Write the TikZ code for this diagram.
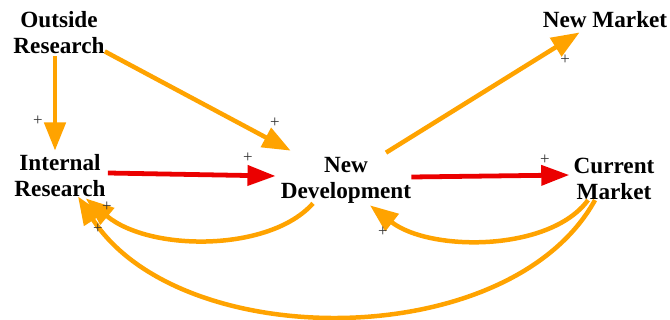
\documentclass[tikz,border=0pt]{standalone}
\usepackage{fontspec}
\setmainfont{Liberation Serif}
\usetikzlibrary{arrows.meta}
\definecolor{linkorange}{RGB}{255,163,0}
\definecolor{linkred}{RGB}{235,0,0}

\begin{document}
\begin{tikzpicture}[x=0.025cm, y=-0.025cm,
  var/.style={align=center, inner sep=0pt, font=\fontsize{16.5}{18.5}\selectfont\bfseries},
  sign/.style={font=\fontsize{12}{12}\selectfont, text=black!80},
  link/.style={color=linkorange, line width=3.2pt, -{Triangle[length=20pt,width=15pt]}},
  flow/.style={color=linkred, line width=3.4pt, -{Triangle[length=20pt,width=14pt]}}]
	\useasboundingbox (0,0) rectangle (670,320);
	% variables
	\node[var] (out) at (59,33) {Outside\\Research};
	\node[var] (inr) at (60,176) {Internal\\Research};
	\node[var] (dev) at (346,180) {New\\Development};
	\node[var] (cm) at (614,179) {Current\\Market};
	\node[var] (nm) at (605,20) {New Market};
	% straight links
	\draw[link] ([shift={(-4,2)}]out.south) -- ([shift={(-5,-4)}]inr.north);
	\draw[link] ([shift={(0,-3)}]out.south east) -- ([shift={(10,-6)}]dev.north west);
	\draw[flow] ([shift={(2,-3)}]inr.east) -- ([shift={(-5,-4)}]dev.west);
	\draw[link] ([shift={(40,-4)}]dev.north) -- ([shift={(37,4)}]nm.south west);
	\draw[flow] ([shift={(0,-3)}]dev.east) -- ([shift={(-4,-4)}]cm.west);
	% feedback links
	\draw[link] ([shift={(-33,0)}]dev.south) .. controls (270,252) and (150,252) .. ([shift={(-20,1)}]inr.south east);
	\draw[link] ([shift={(-26,0)}]cm.south) .. controls (550,252) and (430,252) .. ([shift={(24,2)}]dev.south);
	\draw[link] ([shift={(-19,0)}]cm.south) .. controls (510,354) and (180,354) .. ([shift={(18,-1)}]inr.south);
	% polarities
	\node[sign] (p1) at (38,121) {+};
	\node[sign] (p2) at (275,123) {+};
	\node[sign] (p3) at (248,158) {+};
	\node[sign] (p4) at (565,60) {+};
	\node[sign] (p5) at (545,160) {+};
	\node[sign] (p6) at (107,207) {+};
	\node[sign] (p7) at (383,232) {+};
	\node[sign] (p8) at (98,229) {+};
\end{tikzpicture}
\end{document}
